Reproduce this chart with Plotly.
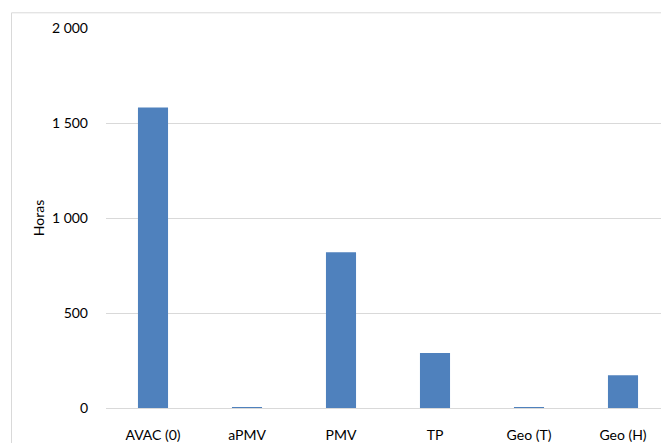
import plotly.graph_objects as go

categories = ["AVAC (0)", "aPMV", "PMV", "TP", "Geo (T)", "Geo (H)"]
horas = [1582, 4, 820, 289, 4, 173]
tick_vals = [0, 500, 1000, 1500, 2000]
tick_text = ["0", "500", "1 000", "1 500", "2 000"]

fig = go.Figure(go.Bar(x=categories, y=horas, marker=dict(color="#4f81bd", line=dict(width=0))))

font = dict(family="Lato, Carlito, Calibri, sans-serif", size=14, color="#000000")
fig.update_layout(
    width=662, height=435,
    margin=dict(l=98, r=0, t=20, b=26, pad=0),
    paper_bgcolor="white", plot_bgcolor="white",
    bargap=0.68,
    font=font,
    showlegend=False,
    xaxis=dict(showgrid=False, showline=True, linecolor="#d9d9d9", linewidth=1,
               ticks="", ticklabelstandoff=14, tickfont=font),
    yaxis=dict(range=[0, 2000], tickvals=tick_vals, ticktext=tick_text,
               showgrid=True, gridcolor="#d9d9d9", gridwidth=1, zeroline=False,
               showline=False, ticks="", ticklabelstandoff=17, tickfont=font,
               title=dict(text="Horas", font=font, standoff=4)),
    shapes=[dict(type="rect", xref="paper", yref="paper", x0=-0.1675, x1=1.2, y0=-0.2, y1=1.040,
                 line=dict(color="#d9d9d9", width=1), fillcolor="rgba(0,0,0,0)", layer="below")],
)
fig.write_html("out.html")
